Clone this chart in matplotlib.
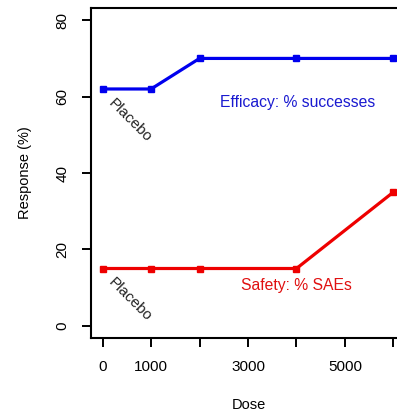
# ==========================================
# Dose response: efficacy vs safety
# ==========================================

import matplotlib.pyplot as plt

# ----------------------------------
# Data
# ----------------------------------

dose = [0, 1000, 2000, 4000, 6000]
efficacy = [62, 62, 70, 70, 70]   # % successes
safety = [15, 15, 15, 15, 35]     # % SAEs

xticks = [0, 1000, 2000, 3000, 4000, 5000, 6000]
xtick_labels = ["0", "1000", "", "3000", "", "5000", ""]
yticks = [0, 20, 40, 60, 80]

plt.rcParams["font.family"] = ["Liberation Sans", "DejaVu Sans"]
plt.rcParams["font.size"] = 11

# ----------------------------------
# Plot
# ----------------------------------

fig = plt.figure(figsize=(3.97, 4.15), dpi=100)
ax = fig.add_axes([0.2292, 0.1855, 0.791, 0.7952])

ax.plot(dose, efficacy, color="#0000ee", lw=2.3, marker="s", ms=5, clip_on=False)
ax.plot(dose, safety, color="#ee0000", lw=2.3, marker="s", ms=5, clip_on=False)

ax.set_xlim(-240, 6240)
ax.set_ylim(-3.2, 83.2)

ax.set_xticks(xticks)
ax.set_xticklabels(xtick_labels)
ax.set_yticks(yticks)
ax.set_yticklabels([str(v) for v in yticks], rotation=90, va="center")

ax.tick_params(length=6.5, width=1.4, pad=9, labelsize=11)
for side in ax.spines.values():
    side.set_linewidth(1.5)

# placebo labels under the first point of each curve
for yval in [efficacy[0], safety[0]]:
    ax.annotate("Placebo", xy=(0, yval), xytext=(9, -5),
                textcoords="offset points", rotation=-45,
                rotation_mode="anchor", ha="left", va="top",
                fontsize=11, color="#222222")

ax.text(4020, 58.4, "Efficacy: % successes", color="#1a1ad0",
        ha="center", va="center", fontsize=11.3)
ax.text(4000, 10.5, "Safety: % SAEs", color="#e01010",
        ha="center", va="center", fontsize=11.3)

fig.text(25 / 397, 1 - 173 / 415, "Response (%)", rotation=90,
         ha="center", va="center", fontsize=10.5)
fig.text(249 / 397, 1 - 405 / 415, "Dose", ha="center", va="center",
         fontsize=10.5)

plt.savefig("out.png", dpi=100)
